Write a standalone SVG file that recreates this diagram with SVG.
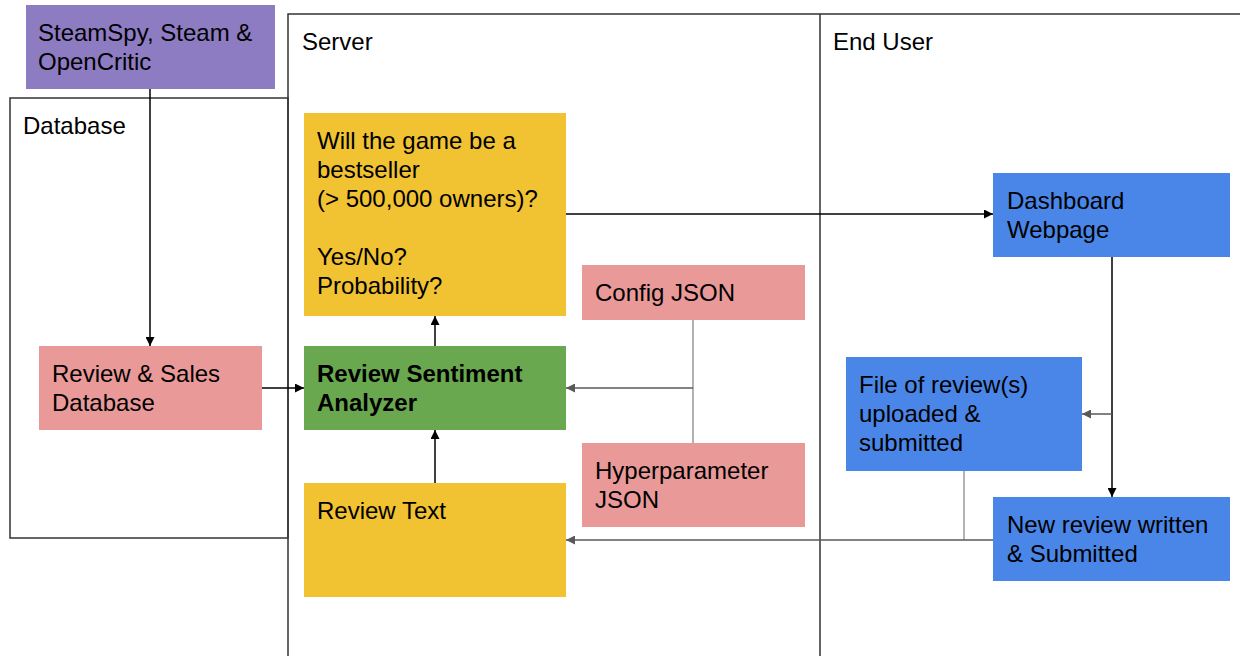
<svg xmlns="http://www.w3.org/2000/svg" width="1240" height="656" viewBox="0 0 1240 656">
<defs>
<marker id="ah" viewBox="0 0 10 10" refX="10" refY="5" markerWidth="10" markerHeight="9" markerUnits="userSpaceOnUse" orient="auto"><path d="M0,0 L10,5 L0,10 z" fill="#000"/></marker>
<marker id="ahg" viewBox="0 0 10 10" refX="10" refY="5" markerWidth="10" markerHeight="9" markerUnits="userSpaceOnUse" orient="auto"><path d="M0,0 L10,5 L0,10 z" fill="#595959"/></marker>
<style>
text{font-family:"Liberation Sans",Arial,sans-serif;font-size:24px;fill:#000}
.b{font-weight:bold}
.frame{fill:none;stroke:#333;stroke-width:1.5}
.c{fill:none;stroke:#000;stroke-width:1.5}
.g{fill:none;stroke:#999;stroke-width:1.5}
.gd{fill:none;stroke:#595959;stroke-width:1.5}
</style>
</defs>
<rect width="1240" height="656" fill="#fff"/>
<g id="frames">
<rect class="frame" x="10" y="98" width="278" height="440"/>
<path class="frame" d="M288,656 V14 H1240 M820,14 V656"/>
<text x="302" y="50">Server</text>
<text x="833" y="50">End User</text>
<text x="23" y="134">Database</text>
</g>
<g id="connectors">
<path class="c" d="M150,89 V346" marker-end="url(#ah)"/>
<path class="c" d="M262,388 H304" marker-end="url(#ah)"/>
<path class="c" d="M435,346 V316" marker-end="url(#ah)"/>
<path class="c" d="M435,483 V430" marker-end="url(#ah)"/>
<path class="c" d="M566,214 H993" marker-end="url(#ah)"/>
<path class="g" d="M693,320 V443"/>
<path class="gd" d="M693,388 H566" marker-end="url(#ahg)"/>
<path class="c" d="M1112,257 V497" marker-end="url(#ah)"/>
<path class="gd" d="M1112,414 H1082" marker-end="url(#ahg)"/>
<path class="g" d="M964,471 V540"/>
<path class="gd" d="M993,540 H566" marker-end="url(#ahg)"/>
</g>
<g id="sources">
<rect x="26" y="5" width="249" height="84" fill="#8e7cc3"/>
<text x="38" y="41">SteamSpy, Steam &amp;</text>
<text x="38" y="70">OpenCritic</text>
</g>
<g id="salesdb">
<rect x="39" y="346" width="223" height="84" fill="#ea9999"/>
<text x="52" y="382">Review &amp; Sales</text>
<text x="52" y="411">Database</text>
</g>
<g id="question">
<rect x="304" y="113" width="262" height="203" fill="#f1c232"/>
<text x="317" y="149">Will the game be a</text>
<text x="317" y="178">bestseller</text>
<text x="317" y="207">(&gt; 500,000 owners)?</text>
<text x="317" y="265">Yes/No?</text>
<text x="317" y="294">Probability?</text>
</g>
<g id="analyzer">
<rect x="304" y="346" width="262" height="84" fill="#6aa84f"/>
<text class="b" x="317" y="382">Review Sentiment</text>
<text class="b" x="317" y="411">Analyzer</text>
</g>
<g id="reviewtext">
<rect x="304" y="483" width="262" height="114" fill="#f1c232"/>
<text x="317" y="519">Review Text</text>
</g>
<g id="config">
<rect x="582" y="265" width="223" height="55" fill="#ea9999"/>
<text x="595" y="301">Config JSON</text>
</g>
<g id="hyper">
<rect x="582" y="443" width="223" height="84" fill="#ea9999"/>
<text x="595" y="479">Hyperparameter</text>
<text x="595" y="508">JSON</text>
</g>
<g id="dashboard">
<rect x="993" y="173" width="237" height="84" fill="#4a86e8"/>
<text x="1007" y="209">Dashboard</text>
<text x="1007" y="238">Webpage</text>
</g>
<g id="fileupload">
<rect x="846" y="357" width="236" height="114" fill="#4a86e8"/>
<text x="859" y="393">File of review(s)</text>
<text x="859" y="422">uploaded &amp;</text>
<text x="859" y="451">submitted</text>
</g>
<g id="newreview">
<rect x="993" y="497" width="237" height="84" fill="#4a86e8"/>
<text x="1007" y="533">New review written</text>
<text x="1007" y="562">&amp; Submitted</text>
</g>
</svg>
